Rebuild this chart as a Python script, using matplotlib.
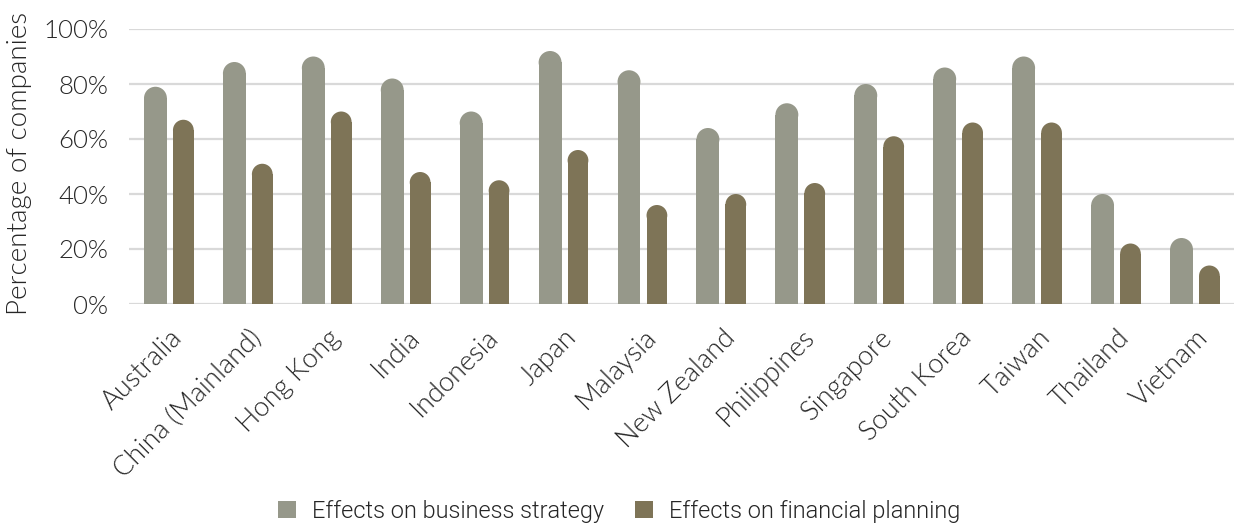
import matplotlib
matplotlib.use("Agg")
import matplotlib.pyplot as plt
from matplotlib.patches import Ellipse
from matplotlib.transforms import ScaledTranslation
import numpy as np

countries = ["Australia", "China (Mainland)", "Hong Kong", "India", "Indonesia",
             "Japan", "Malaysia", "New Zealand", "Philippines", "Singapore",
             "South Korea", "Taiwan", "Thailand", "Vietnam"]
business_strategy = [79, 88, 90, 82, 70, 92, 85, 64, 73, 80, 86, 90, 40, 24]
financial_planning = [67, 51, 70, 48, 45, 56, 36, 40, 44, 61, 66, 66, 22, 14]
yticks = [0, 20, 40, 60, 80, 100]
ytick_labels = ["0%", "20%", "40%", "60%", "80%", "100%"]

series_names = ["Effects on business strategy", "Effects on financial planning"]
colors = ["#96988a", "#7e7457"]
text_color = "#262626"

plt.rcParams["font.family"] = ["Lato", "DejaVu Sans"]
axis_font = {"family": ["Lato", "DejaVu Sans"], "weight": 300}

fig = plt.figure(figsize=(12.34, 5.25), dpi=100)
ax = fig.add_axes([129 / 1234, 1 - 304 / 525, 1 - 129 / 1234, 275 / 525])
n = len(countries)
ax.set_xlim(0, n)
ax.set_ylim(0, 100)

# data units per pixel, used to keep the rounded caps circular
px_x = n / (ax.get_position().width * fig.get_figwidth() * fig.dpi)
px_y = 100 / (ax.get_position().height * fig.get_figheight() * fig.dpi)

centers = np.arange(n) + 0.5
offsets = [(-0.31, -0.02), (0.057, 0.32)]

for vals, (lo, hi), col, name in zip([business_strategy, financial_planning],
                                     offsets, colors, series_names):
    w = hi - lo
    ry = (w / 2) / px_x * px_y
    xs = centers + (lo + hi) / 2
    heights = [max(v - ry, 0) for v in vals]
    ax.bar(xs, heights, width=w, color=col, label=name, zorder=3, linewidth=0)
    for x, h in zip(xs, heights):
        ax.add_patch(Ellipse((x, h), w, 2 * ry, color=col, zorder=3, linewidth=0))

ax.set_yticks(yticks)
ax.set_yticklabels(ytick_labels, fontsize=18.5, color=text_color, **axis_font)
ax.yaxis.grid(True, color="#d9d9d9", linewidth=1.6, zorder=0)
ax.set_axisbelow(True)
ax.tick_params(axis="y", length=0, pad=15)
ax.tick_params(axis="x", length=0)
for s in ax.spines.values():
    s.set_visible(False)

ax.set_xticks(centers)
labels = ax.set_xticklabels(countries, rotation=45, ha="right", rotation_mode="anchor",
                            fontsize=19.5, color=text_color, **axis_font)
shift = ScaledTranslation(1 / 100, -16 / 100, fig.dpi_scale_trans)
for lbl in labels:
    lbl.set_transform(lbl.get_transform() + shift)

ax.set_ylabel("Percentage of companies", fontsize=20, color=text_color, **axis_font)
ax.yaxis.set_label_coords(-0.088, 0.51)

handles, hl = ax.get_legend_handles_labels()
fig.legend(handles, hl, loc="lower center", bbox_to_anchor=(0.502, -0.036), ncol=2,
           frameon=False, handlelength=0.75, handleheight=0.75,
           handletextpad=0.7, columnspacing=1.3, labelcolor=text_color,
           prop={"family": ["Roboto", "DejaVu Sans"], "weight": 300, "size": 17})

fig.savefig("out.png", dpi=100)
